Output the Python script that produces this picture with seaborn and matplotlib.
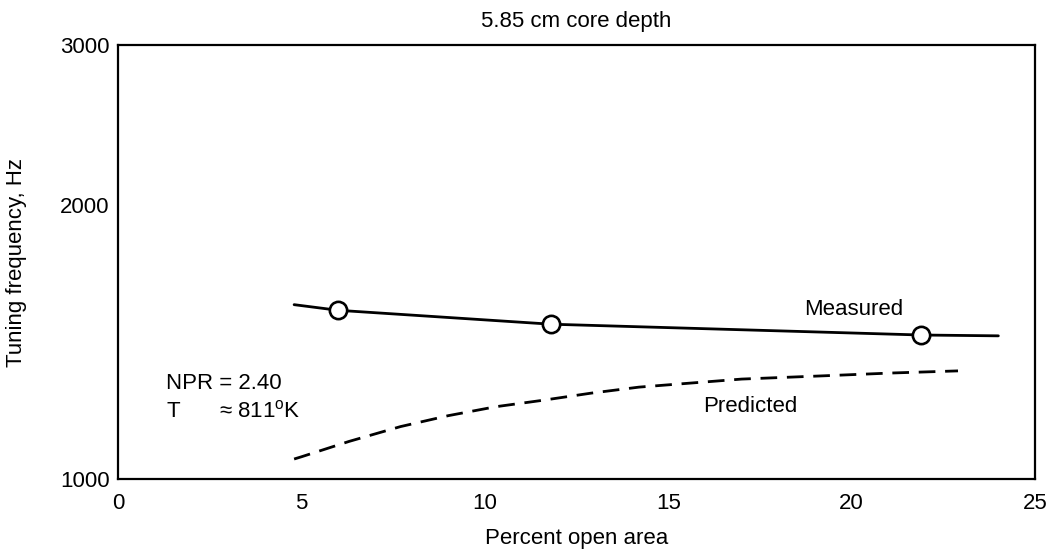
import matplotlib
matplotlib.use("Agg")
import matplotlib.pyplot as plt
from matplotlib.ticker import NullLocator
import seaborn as sns
import pandas as pd

# measured curve (line) and the three test points on it
measured_x = [4.8, 6.0, 11.8, 21.9, 24.0]
measured_y = [1555, 1533, 1480, 1440, 1437]
points_x = [6.0, 11.8, 21.9]
points_y = [1533, 1480, 1440]

# predicted curve
predicted_x = [4.8, 5.0, 6.3, 7.7, 9.0, 10.3, 11.6, 12.9, 14.2, 17.0, 19.3, 21.1, 22.9]
predicted_y = [1052, 1058, 1100, 1142, 1174, 1201, 1221, 1243, 1262, 1288, 1299, 1308, 1315]

x_ticks = [0, 5, 10, 15, 20, 25]
y_ticks = [1000, 2000, 3000]
y_tick_labels = ["1000", "2000", "3000"]

sns.set_theme(style="white")
plt.rcParams["font.family"] = ["Liberation Sans", "DejaVu Sans"]
plt.rcParams["mathtext.fontset"] = "custom"
plt.rcParams["mathtext.rm"] = "Liberation Sans"
plt.rcParams["text.color"] = "black"
plt.rcParams["axes.labelcolor"] = "black"

fs = 16

measured = pd.DataFrame({"x": measured_x, "y": measured_y})
points = pd.DataFrame({"x": points_x, "y": points_y})
predicted = pd.DataFrame({"x": predicted_x, "y": predicted_y})

fig = plt.figure(figsize=(10.54, 5.5), dpi=100)
ax = fig.add_axes([0.112, 0.129, 0.870, 0.789])

sns.lineplot(data=measured, x="x", y="y", ax=ax, color="black", linewidth=2.0, sort=False)
sns.lineplot(data=predicted, x="x", y="y", ax=ax, color="black", linewidth=2.0,
             linestyle=(0, (6, 3.5)), sort=False)
sns.scatterplot(data=points, x="x", y="y", ax=ax, s=155, facecolor="white",
                edgecolor="black", linewidth=1.9, zorder=5)

ax.set_yscale("log")
ax.set_xlim(0, 25)
ax.set_ylim(1000, 3000)
ax.set_xticks(x_ticks)
ax.set_yticks(y_ticks)
ax.set_yticklabels(y_tick_labels)
ax.yaxis.set_minor_locator(NullLocator())
ax.tick_params(axis="both", direction="in", length=5, width=1.4, colors="black",
               labelsize=fs)
ax.tick_params(axis="x", pad=10)
ax.tick_params(axis="y", pad=6)
for s in ax.spines.values():
    s.set_linewidth(1.6)
    s.set_color("black")

ax.set_xlabel("Percent open area", fontsize=fs)
ax.set_ylabel("Tuning frequency, Hz", fontsize=fs)
ax.xaxis.set_label_coords(0.5, -0.113)
ax.yaxis.set_label_coords(-0.099, 0.5)
ax.set_title("5.85 cm core depth", fontsize=fs, pad=13)

ax.text(1.31, 1256, "NPR = 2.40", fontsize=fs, va="baseline")
ax.text(1.31, 1170, "T", fontsize=fs, va="baseline")
ax.text(2.75, 1170, "\u2248 811$^{\\mathrm{o}}$K", fontsize=fs, va="baseline")
ax.text(18.7, 1514, "Measured", fontsize=fs, va="baseline")
ax.text(15.95, 1185, "Predicted", fontsize=fs, va="baseline")

fig.savefig("out.png", dpi=100)
plt.close(fig)
